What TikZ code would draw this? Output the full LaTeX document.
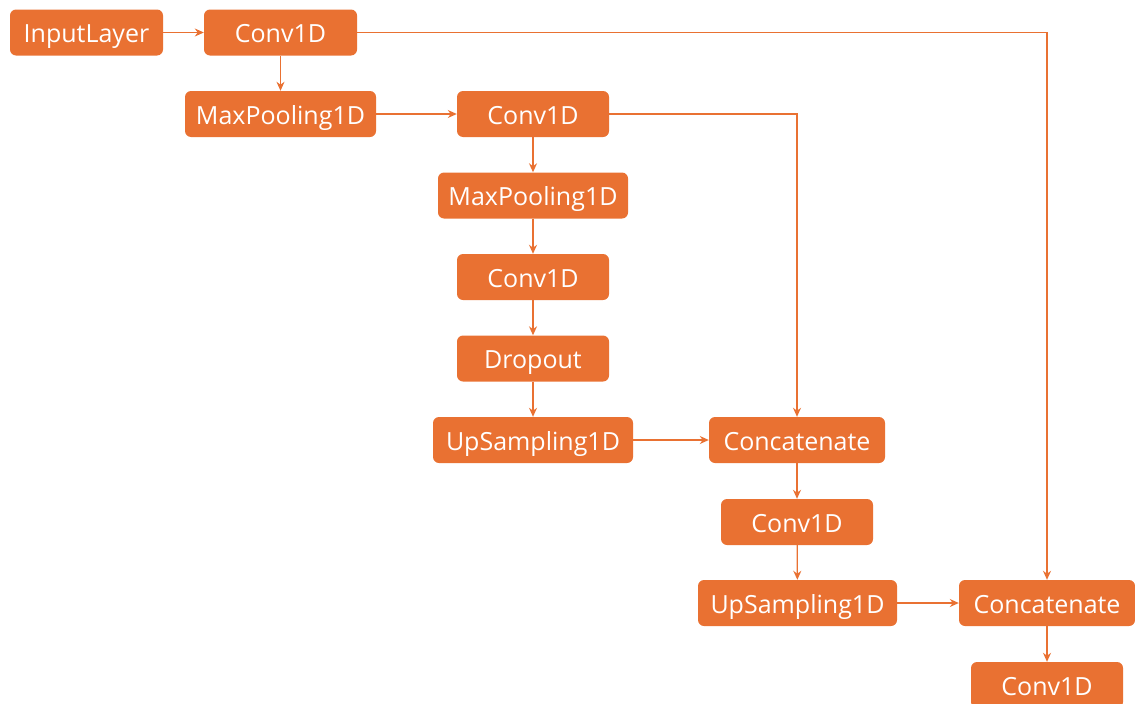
\documentclass[tikz,border=0pt]{standalone}
\usepackage{fontspec}
\setmainfont{Open Sans}
\usetikzlibrary{arrows.meta}
\definecolor{org}{HTML}{E97132}
\begin{document}
\begin{tikzpicture}[x=1pt,y=-1pt,
  layer/.style={fill=org,draw=none,rounded corners=6pt,text=white,minimum height=46pt,inner sep=0pt,text height=20pt,text depth=0pt,font=\fontsize{25}{29}\selectfont},
  conn/.style={draw=org,line width=1.3pt,-{Stealth[length=9pt,width=8pt]}}]
\useasboundingbox (0,0) rectangle (1135,704);
\node[layer,minimum width=153pt] (in) at (86.5,32.5) {InputLayer};
\node[layer,minimum width=153pt] (c1) at (280.5,32.5) {Conv1D};
\node[layer,minimum width=191pt] (m1) at (280.5,114) {MaxPooling1D};
\node[layer,minimum width=152pt] (c2) at (533,114) {Conv1D};
\node[layer,minimum width=190pt] (m2) at (533,195.5) {MaxPooling1D};
\node[layer,minimum width=152pt] (c3) at (533,277) {Conv1D};
\node[layer,minimum width=152pt] (d) at (533,358.5) {Dropout};
\node[layer,minimum width=200pt] (u1) at (533,440) {UpSampling1D};
\node[layer,minimum width=176pt] (k1) at (797,440) {Concatenate};
\node[layer,minimum width=152pt] (c4) at (797,522) {Conv1D};
\node[layer,minimum width=199pt] (u2) at (797.5,603) {UpSampling1D};
\node[layer,minimum width=176pt] (k2) at (1047,603) {Concatenate};
\node[layer,minimum width=152pt] (c5) at (1047,685) {Conv1D};
\draw[conn] (in) -- (c1);
\draw[conn] (c1) -- (m1);
\draw[conn] (m1) -- (c2);
\draw[conn] (c2) -- (m2);
\draw[conn] (m2) -- (c3);
\draw[conn] (c3) -- (d);
\draw[conn] (d) -- (u1);
\draw[conn] (u1) -- (k1);
\draw[conn] (k1) -- (c4);
\draw[conn] (c4) -- (u2);
\draw[conn] (u2) -- (k2);
\draw[conn] (k2) -- (c5);
\draw[conn] (c2.east) -| (k1.north);
\draw[conn] (c1.east) -| (k2.north);
\end{tikzpicture}
\end{document}
